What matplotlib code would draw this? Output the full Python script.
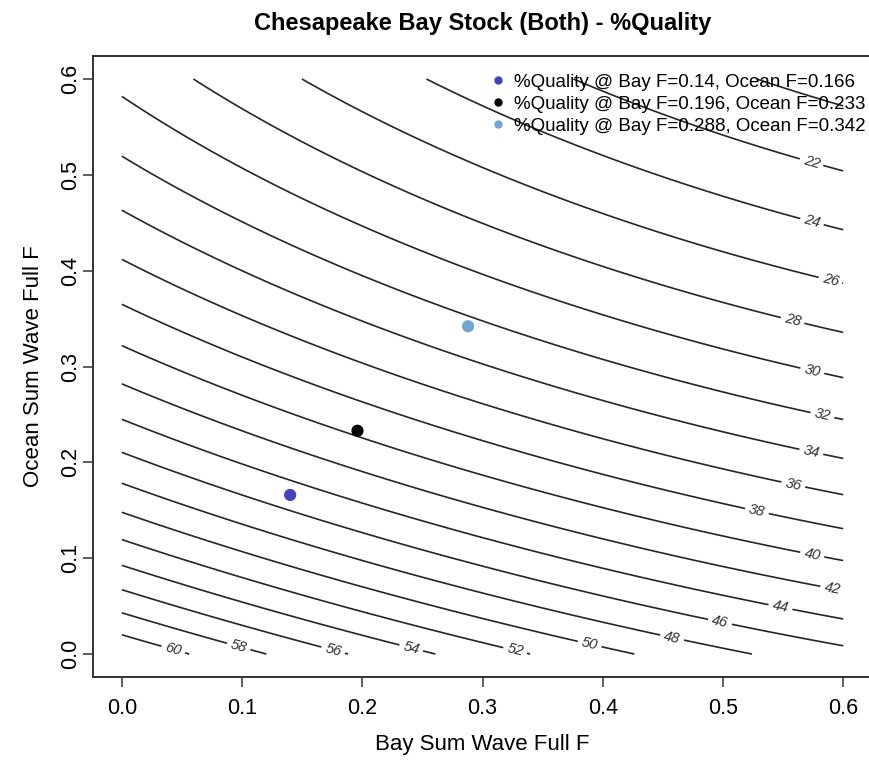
import numpy as np
import matplotlib
matplotlib.use('Agg')
import matplotlib.pyplot as plt
from matplotlib.lines import Line2D

plt.rcParams['font.family'] = ['Liberation Sans', 'DejaVu Sans']

# contour levels (%Quality)
levels = list(range(20, 62, 2))

# where each contour meets the plot edges
left_levels = [60, 58, 56, 54, 52, 50, 48, 46, 44, 42, 40, 38, 36, 34, 32, 30]
left_y = [0.020, 0.041, 0.067, 0.093, 0.120, 0.148, 0.178, 0.210, 0.246, 0.283,
          0.322, 0.363, 0.412, 0.4635, 0.519, 0.5835]
right_levels = [20, 22, 24, 26, 28, 30, 32, 34, 36, 38, 40, 42, 44, 46]
right_y = [0.573, 0.503, 0.440, 0.388, 0.336, 0.288, 0.246, 0.205, 0.168, 0.131,
           0.099, 0.067, 0.036, 0.008]
top_levels = [20, 22, 24, 26, 28]
top_x = [0.525, 0.376, 0.252, 0.148, 0.059]
bottom_levels = [48, 50, 52, 54, 56, 58, 60]
bottom_x = [0.528, 0.431, 0.342, 0.262, 0.187, 0.117, 0.062]
# a few points inside the plot that sit on a contour (mostly at the labels)
inner_levels = [22, 28, 36, 38, 44, 46, 48, 50]
inner_x = [0.434, 0.558, 0.558, 0.528, 0.5475, 0.4975, 0.4577, 0.389]
inner_y = [0.574, 0.3485, 0.174, 0.148, 0.047, 0.033, 0.017, 0.010]

# reference points
bay_f = [0.14, 0.196, 0.288]
ocean_f = [0.166, 0.233, 0.342]
pt_colors = ['#4343bd', '#000000', '#6fa6d3']
legend_labels = ['%Quality @ Bay F=0.14, Ocean F=0.166',
                 '%Quality @ Bay F=0.196, Ocean F=0.233',
                 '%Quality @ Bay F=0.288, Ocean F=0.342']

# build a smooth surface through the readings (cubic least squares on log)
px = np.concatenate([np.zeros(len(left_y)), np.full(len(right_y), 0.6),
                     np.array(top_x), np.array(bottom_x), np.array(inner_x)])
py = np.concatenate([np.array(left_y), np.array(right_y),
                     np.full(len(top_x), 0.6), np.zeros(len(bottom_x)),
                     np.array(inner_y)])
pq = np.array(left_levels + right_levels + top_levels + bottom_levels
              + inner_levels, float)
terms = [(i, j) for i in range(4) for j in range(4) if i + j <= 3]
A = np.column_stack([px**i * py**j for i, j in terms])
coef = np.linalg.lstsq(A, np.log(pq), rcond=None)[0]

gx = np.linspace(0, 0.6, 241)
X, Y = np.meshgrid(gx, gx)
Z = np.exp(sum(c * X**i * Y**j for c, (i, j) in zip(coef, terms)))

fig = plt.figure(figsize=(8.69, 7.62), dpi=100)
ax = fig.add_axes([0.107, 0.1115, 0.8965, 0.815])

line_kw = dict(colors='#262626', linewidths=1.2)
ax.contour(X, Y, Z, levels=levels[:1], **line_kw)   # 20 has no label
cs = ax.contour(X, Y, Z, levels=levels[1:], **line_kw)
label_pos = [(0.5725, 0.508), (0.574, 0.451), (0.589, 0.388), (0.558, 0.3485),
             (0.574, 0.294), (0.5825, 0.248), (0.573, 0.208), (0.558, 0.174),
             (0.528, 0.148), (0.574, 0.102), (0.591, 0.069), (0.5475, 0.047),
             (0.4975, 0.033), (0.4577, 0.017), (0.389, 0.010), (0.327, 0.003),
             (0.24, 0.003), (0.1755, 0.003), (0.0965, 0.005), (0.0424, 0.003)]
labels = ax.clabel(cs, inline=True, fmt='%d', fontsize=10.5,
                   manual=label_pos, inline_spacing=5, colors='#333333')
for t in labels:
    t.set_fontstyle('italic')

ax.scatter(bay_f, ocean_f, c=pt_colors, s=60, zorder=5)

handles = [Line2D([], [], marker='o', ls='none', color=c, markersize=5)
           for c in pt_colors]
ax.legend(handles, legend_labels, loc='upper right', frameon=False,
          fontsize=13.5, handlelength=1.0, handletextpad=0.35,
          borderaxespad=0.0, borderpad=0.0, labelspacing=0.26,
          bbox_to_anchor=(0.992, 0.972))

ax.set_xlim(-0.024, 0.624)
ax.set_ylim(-0.024, 0.624)
ticks = [0.0, 0.1, 0.2, 0.3, 0.4, 0.5, 0.6]
ax.set_xticks(ticks)
ax.set_yticks(ticks)
ax.set_xticklabels([f'{t:.1f}' for t in ticks], fontsize=15.5)
ax.set_yticklabels([f'{t:.1f}' for t in ticks], fontsize=15.5, rotation=90,
                   va='center')
ax.tick_params(direction='out', length=7, width=1.1, color='#333333')
ax.tick_params(axis='x', pad=8)
ax.tick_params(axis='y', pad=1.5)
for s in ax.spines.values():
    s.set_linewidth(1.4)
    s.set_color('#333333')

ax.set_xlabel('Bay Sum Wave Full F', fontsize=16, labelpad=11)
ax.set_ylabel('Ocean Sum Wave Full F', fontsize=16, labelpad=12)
ax.set_title('Chesapeake Bay Stock (Both) - %Quality', fontsize=17,
             fontweight='bold', pad=18.5)

fig.savefig('out.png', dpi=100)
